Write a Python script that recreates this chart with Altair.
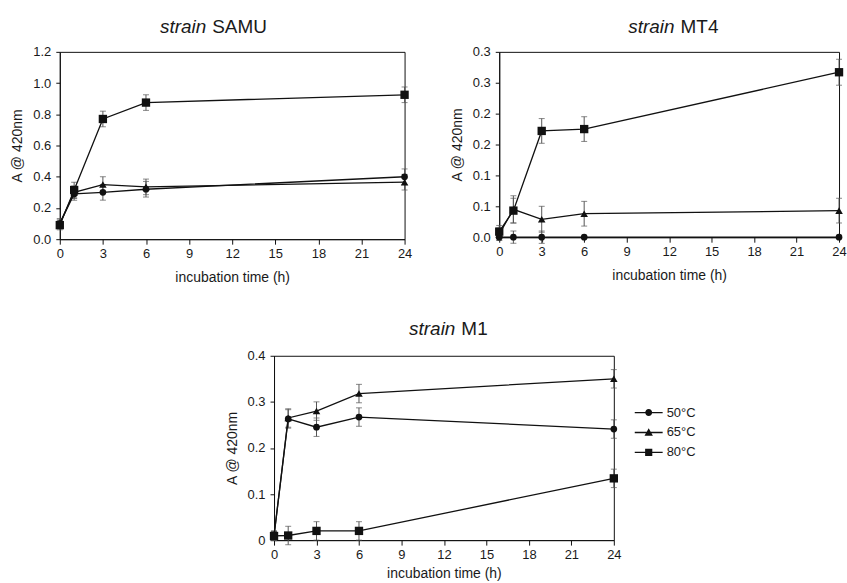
import altair as alt
import pandas as pd

# ---------------- data ----------------
time_h = [0, 1, 3, 6, 24]
series_names = ["50°C", "65°C", "80°C"]

samu_50 = [0.10, 0.29, 0.30, 0.32, 0.40]
samu_65 = [0.10, 0.30, 0.35, 0.335, 0.365]
samu_80 = [0.09, 0.315, 0.77, 0.875, 0.925]
samu_50_err = [0.03, 0.04, 0.05, 0.05, 0.05]
samu_65_err = [0.03, 0.04, 0.05, 0.05, 0.05]
samu_80_err = [0.03, 0.05, 0.05, 0.05, 0.05]

mt4_50 = [0.0, 0.0, 0.0, 0.0, 0.0]
mt4_65 = [0.005, 0.045, 0.029, 0.038, 0.043]
mt4_80 = [0.009, 0.043, 0.172, 0.175, 0.267]
mt4_50_err = [0.005, 0.01, 0.01, 0.0, 0.0]
mt4_65_err = [0.01, 0.022, 0.021, 0.02, 0.02]
mt4_80_err = [0.01, 0.02, 0.02, 0.02, 0.021]

m1_50 = [0.01, 0.263, 0.245, 0.267, 0.241]
m1_65 = [0.009, 0.265, 0.28, 0.318, 0.35]
m1_80 = [0.009, 0.01, 0.02, 0.02, 0.134]
m1_50_err = [0.01, 0.02, 0.02, 0.02, 0.02]
m1_65_err = [0.01, 0.02, 0.02, 0.02, 0.02]
m1_80_err = [0.01, 0.02, 0.02, 0.02, 0.02]

time_ticks = [0, 3, 6, 9, 12, 15, 18, 21, 24]
samu_ticks = [0, 0.2, 0.4, 0.6, 0.8, 1.0, 1.2]
mt4_ticks = [0, 0.05, 0.1, 0.15, 0.2, 0.25, 0.3]
m1_ticks = [0, 0.1, 0.2, 0.3, 0.4]

x_title = "incubation time (h)"
y_title = "A @ 420nm"

FONT = "Liberation Sans"
TXT = "#1a1a1a"


def make_df(vals, errs):
    rows = []
    for name, v, e in zip(series_names, vals, errs):
        for t, y, err in zip(time_h, v, e):
            rows.append({"time": t, "series": name, "value": y,
                         "lo": y - err, "hi": y + err})
    return pd.DataFrame(rows)


def panel(vals, errs, yticks, ymax, label_expr, w, h, strain, strain_pos,
          with_legend=False, xtitle_pad=10):
    df = make_df(vals, errs)
    base = alt.Chart(df)
    x = alt.X("time:Q", scale=alt.Scale(domain=[0, 24], nice=False),
              axis=alt.Axis(values=time_ticks, title=x_title, tickSize=5,
                            labelPadding=3, titlePadding=xtitle_pad,
                            labelFlush=False, labelOverlap=False))
    yscale = alt.Scale(domain=[0, ymax], nice=False)
    yaxis = alt.Axis(values=yticks, title=y_title, tickSize=4,
                     labelPadding=5, titlePadding=8,
                     labelExpr=label_expr, labelOverlap=False)
    y = alt.Y("value:Q", scale=yscale, axis=yaxis)
    ylo = alt.Y("lo:Q", scale=yscale, axis=yaxis)
    yhi = alt.Y("hi:Q", scale=yscale, axis=yaxis)

    err_rule = base.mark_rule(color="#555555", strokeWidth=1).encode(
        x=x, y=ylo, y2="hi:Q")
    cap_lo = base.mark_tick(color="#555555", thickness=1, size=6,
                            orient="horizontal").encode(x=x, y=ylo)
    cap_hi = base.mark_tick(color="#555555", thickness=1, size=6,
                            orient="horizontal").encode(x=x, y=yhi)
    line = base.mark_line(color="#111111", strokeWidth=1.3).encode(
        x=x, y=y, detail="series:N")
    pts = base.mark_point(filled=True, color="#111111", opacity=1).encode(
        x=x, y=y,
        shape=alt.Shape("series:N", scale=alt.Scale(
            domain=series_names, range=["circle", "triangle-up", "square"]),
            legend=None),
        size=alt.Size("series:N", scale=alt.Scale(
            domain=series_names, range=[45, 70, 50]), legend=None))

    tdf = pd.DataFrame({"a": ["strain"], "b": [strain]})
    sx, sy = strain_pos
    t1 = alt.Chart(tdf).mark_text(font=FONT, fontSize=19, fontStyle="italic",
                                  align="right", baseline="alphabetic",
                                  color=TXT).encode(
        text="a:N", x=alt.value(sx), y=alt.value(sy))
    t2 = alt.Chart(tdf).mark_text(font=FONT, fontSize=19, align="left",
                                  baseline="alphabetic", color=TXT).encode(
        text="b:N", x=alt.value(sx + 6), y=alt.value(sy))

    layers = [err_rule, cap_lo, cap_hi, line, pts, t1, t2]
    if with_legend:
        bar = "M-1.4,-0.065H1.4V0.065H-1.4Z"
        leg_paths = [
            bar + "M-0.35,0A0.35,0.35,0,1,1,0.35,0A0.35,0.35,0,1,1,-0.35,0Z",
            bar + "M0,-0.42L0.42,0.33L-0.42,0.33Z",
            bar + "M-0.36,-0.36H0.36V0.36H-0.36Z",
        ]
        leg = base.mark_point(filled=True, color="#111111", size=0,
                              opacity=1).encode(
            x=x, y=y,
            shape=alt.Shape("series:N", scale=alt.Scale(
                domain=series_names, range=leg_paths),
                legend=alt.Legend(title=None, orient="none", legendX=365,
                                  legendY=46, symbolSize=400,
                                  symbolFillColor="#111111",
                                  labelFont=FONT,
                                  labelFontSize=13, labelColor=TXT,
                                  labelOffset=7, rowPadding=2, padding=0)))
        layers.append(leg)
    ch = alt.layer(*layers).properties(width=w, height=h)
    if with_legend:
        ch = ch.resolve_scale(shape="independent")
    return ch


samu = panel([samu_50, samu_65, samu_80],
             [samu_50_err, samu_65_err, samu_80_err],
             samu_ticks, 1.2, "format(datum.value, '.1f')", 346, 188,
             "SAMU", (147, -19))
mt4 = panel([mt4_50, mt4_65, mt4_80],
            [mt4_50_err, mt4_65_err, mt4_80_err],
            mt4_ticks, 0.3,
            "format(round(datum.value * 10 + 0.000001) / 10, '.1f')", 341, 186,
            "MT4", (176, -19))
m1 = panel([m1_50, m1_65, m1_80],
           [m1_50_err, m1_65_err, m1_80_err],
           m1_ticks, 0.4,
           "datum.value == 0 ? '0' : format(datum.value, '.1f')", 341, 185,
           "M1", (182, -21), with_legend=True, xtitle_pad=6)

spacer = alt.Chart(pd.DataFrame({"a": [0]})).mark_point(opacity=0).encode(
    x=alt.X("a:Q", axis=None), y=alt.Y("a:Q", axis=None)
).properties(width=200, height=10, view=alt.ViewBackground(stroke="transparent"))

top = alt.hconcat(samu, mt4, spacing=95, bounds="flush")
bottom = alt.hconcat(spacer, m1, spacing=15, bounds="flush")

chart = alt.vconcat(top, bottom, spacing=305, bounds="flush").properties(
    padding={"left": 10, "top": 16, "right": 0, "bottom": 0}
).configure_axis(
    labelFont=FONT, labelFontSize=13, labelColor=TXT,
    titleFont=FONT, titleFontSize=14, titleFontWeight="normal", titleColor=TXT,
    domainColor="#111111", tickColor="#111111", domainWidth=1, tickWidth=1,
    grid=False
).configure_view(stroke="#111111", strokeWidth=1)

chart.save("out.html", embed_options={"renderer": "svg", "actions": False})
